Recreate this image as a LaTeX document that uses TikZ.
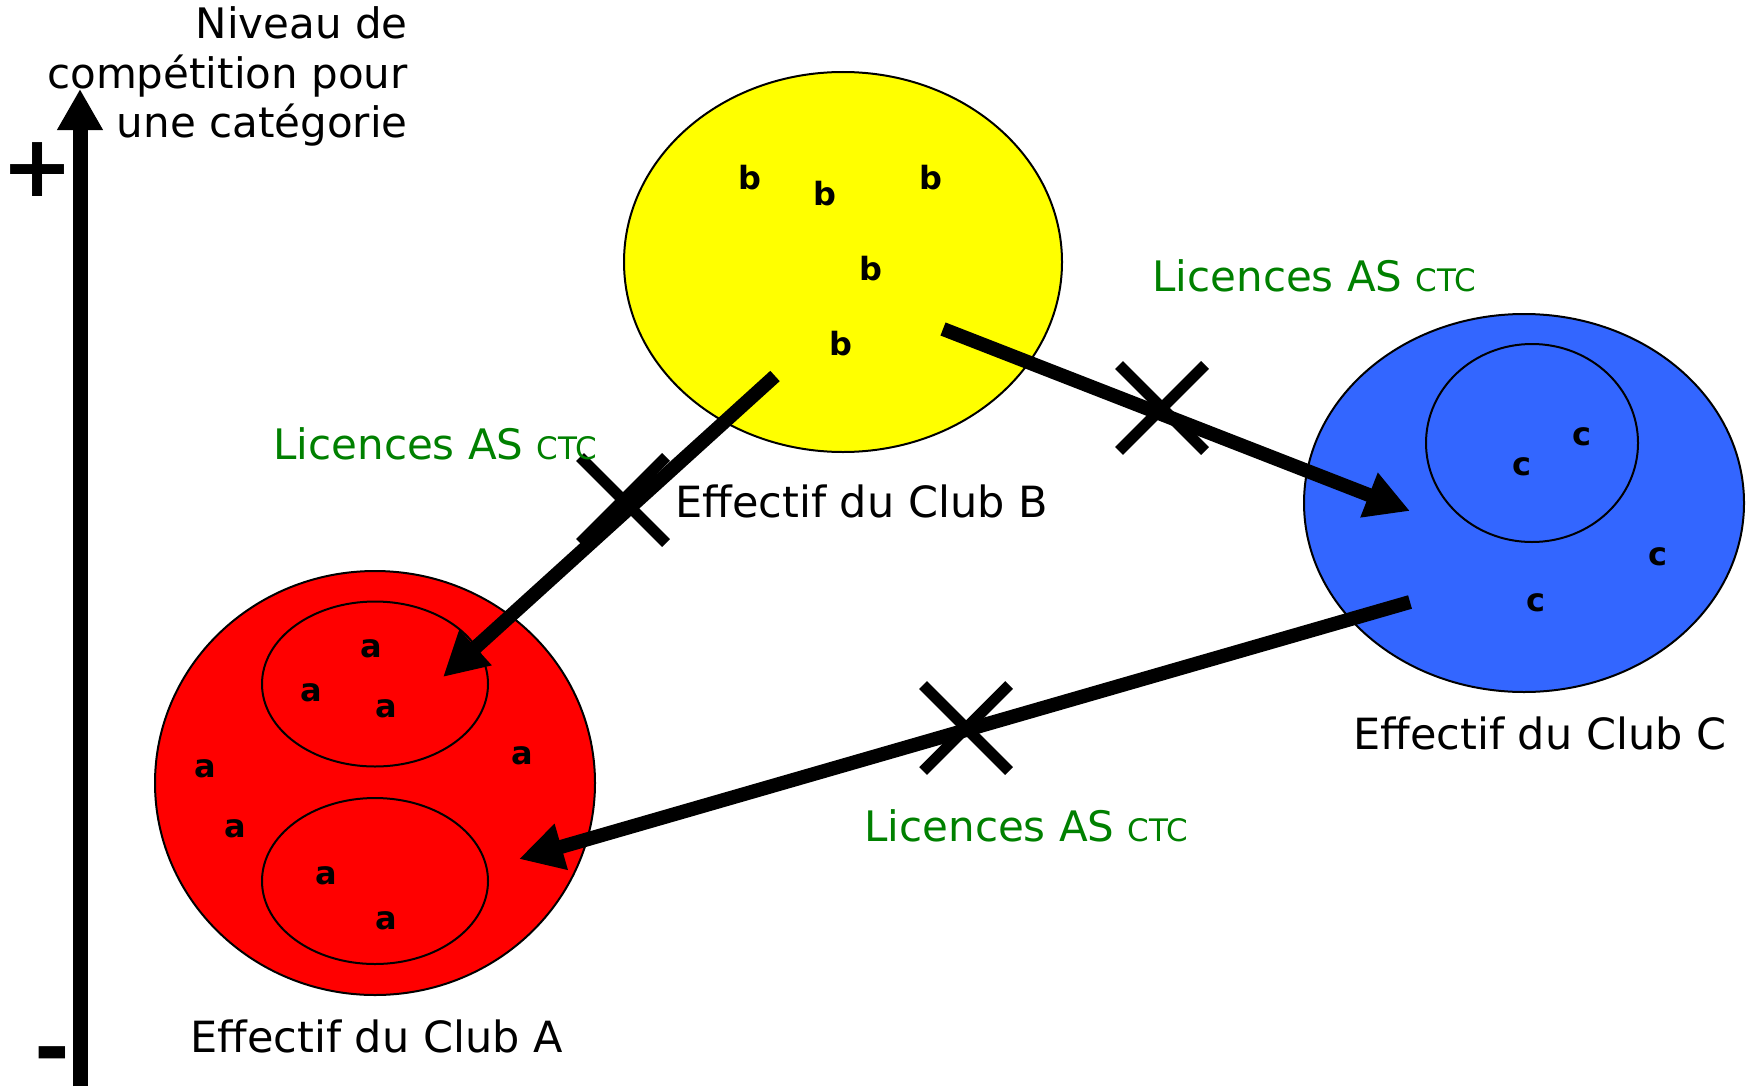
\documentclass[tikz,border=0pt]{standalone}
\usepackage{fontspec}
\setmainfont{DejaVu Sans}
\usetikzlibrary{shapes.geometric,shapes.misc,arrows.meta}
\definecolor{clubyellow}{RGB}{255,255,0}
\definecolor{clubblue}{RGB}{51,102,255}
\definecolor{clubred}{RGB}{255,0,0}
\definecolor{licgreen}{RGB}{0,128,0}
\tikzset{
  club/.style={ellipse, draw=black, line width=1pt, inner sep=0pt},
  member/.style={font=\fontsize{16}{16}\selectfont\bfseries, inner sep=0pt},
  transfer/.style={line width=7pt, -{Triangle[length=22pt,width=22.5pt]}},
  crossmark/.style={cross out, draw, line width=5.5pt, minimum size=37.5pt, inner sep=0pt},
  licence/.style={text=licgreen, font=\fontsize{21}{25}\selectfont, anchor=base west, inner sep=0pt},
  caption/.style={font=\fontsize{21.5}{25}\selectfont, anchor=base west, inner sep=0pt}
}
\newcommand{\ctc}{{\fontsize{15.5}{18}\selectfont CTC}}

\begin{document}
\begin{tikzpicture}[x={(0.5pt,0)}, y={(0,-0.5pt)}]
    \useasboundingbox (0,0) rectangle (1748,1086);
    % axe du niveau
    \coordinate (bas) at (80,1086);
    \coordinate (haut) at (80,89);
    \node [align=right, anchor=base east, inner sep=0pt, font=\fontsize{21}{24.5}\selectfont] (titre) at (408,137) {Niveau de\\compétition pour\\une catégorie};
    \draw[line width=7.5pt, -{Triangle[length=20.5pt,width=21.5pt]}] (bas) -- (haut);
    \node [font=\fontsize{43}{43}\selectfont\bfseries, inner sep=0pt] (plus) at (38,170) {+};
    \node [font=\fontsize{43}{43}\selectfont\bfseries, inner sep=0pt, anchor=base] (moins) at (52,1077) {-};
    % effectifs
    \node [club, fill=clubyellow, minimum width=219pt, minimum height=190pt] (clubB) at (843,262) {};
    \node [club, fill=clubblue, minimum width=220pt, minimum height=189pt] (clubC) at (1524,503) {};
    \node [club, minimum width=106pt, minimum height=99pt] (groupeC) at (1532,443) {};
    \node [club, fill=clubred, minimum width=220pt, minimum height=212pt] (clubA) at (375,783) {};
    \node [club, minimum width=113pt, minimum height=82.5pt] (groupeA1) at (375,684) {};
    \node [club, minimum width=113pt, minimum height=83pt] (groupeA2) at (375,881) {};
    % licencies
    \node [member] (b1) at (750,178) {b};
    \node [member] (b2) at (825,194) {b};
    \node [member] (b3) at (931,178) {b};
    \node [member] (b4) at (871,269) {b};
    \node [member] (b5) at (841,344) {b};
    \node [member] (c1) at (1582,437) {c};
    \node [member] (c2) at (1522,467) {c};
    \node [member] (c3) at (1658,557) {c};
    \node [member] (c4) at (1536,603) {c};
    \node [member] (a1) at (371,649) {a};
    \node [member] (a2) at (311,693) {a};
    \node [member] (a3) at (386,709) {a};
    \node [member] (a4) at (205,769) {a};
    \node [member] (a5) at (522,756) {a};
    \node [member] (a6) at (235,829) {a};
    \node [member] (a7) at (326,876) {a};
    \node [member] (a8) at (386,921) {a};
    % transferts
    \coordinate (depB1) at (775,376);
    \coordinate (arrA1) at (443,677);
    \coordinate (depB2) at (943,329);
    \coordinate (arrC) at (1410,511);
    \coordinate (depC) at (1410,602);
    \coordinate (arrA2) at (519,859);
    \draw[transfer] (depB1) -- (arrA1);
    \draw[transfer] (depB2) -- (arrC);
    \draw[transfer] (depC) -- (arrA2);
    \node [crossmark] (croixBA) at (623,500) {};
    \node [crossmark] (croixBC) at (1162,408) {};
    \node [crossmark] (croixCA) at (966,728) {};
    % textes
    \node [licence] (licBA) at (273,459) {Licences AS \ctc};
    \node [licence] (licBC) at (1152,291) {Licences AS \ctc};
    \node [licence] (licCA) at (864,841) {Licences AS \ctc};
    \node [caption] (effB) at (675,517) {Effectif du Club B};
    \node [caption] (effC) at (1353,749) {Effectif du Club C};
    \node [caption] (effA) at (190,1052) {Effectif du Club A};
\end{tikzpicture}
\end{document}
